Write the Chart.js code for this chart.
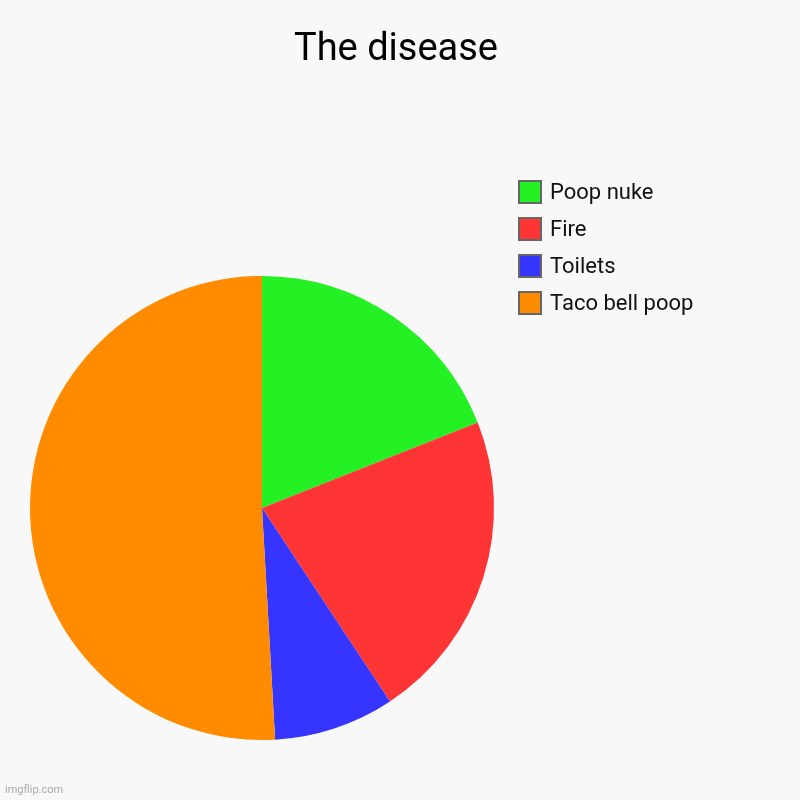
<!DOCTYPE html>
<html>
<head>
<meta charset="utf-8">
<script src="https://cdn.jsdelivr.net/npm/chart.js@4/dist/chart.umd.min.js"></script>
<style>
  html, body { margin: 0; padding: 0; background: #f8f8f8; }
  #wrap { position: relative; width: 800px; height: 800px; font-family: Roboto, sans-serif; }
  #title { position: absolute; left: -4px; width: 800px; top: 25px; text-align: center; font-size: 38px; color: #000; }
  #legend { position: absolute; left: 518px; top: 180px; }
  .item { height: 37px; display: flex; align-items: flex-start; font-size: 22px; color: #111; }
  .box { width: 20px; height: 20px; border: 2px solid #666; margin-right: 8px; }
  .item span { line-height: 24px; }
  #mark { position: absolute; left: 5px; bottom: 4px; font-size: 11px; color: #aaa; }
</style>
</head>
<body>
<div id="wrap">
  <canvas id="myChart" width="800" height="800"></canvas>
  <div id="title">The disease</div>
  <div id="legend"></div>
  <div id="mark">imgflip.com</div>
</div>
<script>
var labels = ["Poop nuke", "Fire", "Toilets", "Taco bell poop"];
var values = [19, 21.7, 8.4, 50.9];
var colors = ["#24f124", "#ff3535", "#3535ff", "#ff8c00"];

var legend = document.getElementById("legend");
labels.forEach(function(l, i){
  var row = document.createElement("div");
  row.className = "item";
  row.innerHTML = '<div class="box" style="background:' + colors[i] + '"></div><span>' + l + '</span>';
  legend.appendChild(row);
});

var ctx = document.getElementById("myChart");
new Chart(ctx, {
  type: "pie",
  data: {
    labels: labels,
    datasets: [{
      data: values,
      backgroundColor: colors,
      borderWidth: 0
    }]
  },
  options: {
    responsive: false,
    animation: false,
    layout: { padding: { left: 30, right: 306, top: 276, bottom: 60 } },
    plugins: {
      legend: { display: false },
      title: { display: false },
      tooltip: { enabled: false }
    }
  }
});
</script>
</body>
</html>
